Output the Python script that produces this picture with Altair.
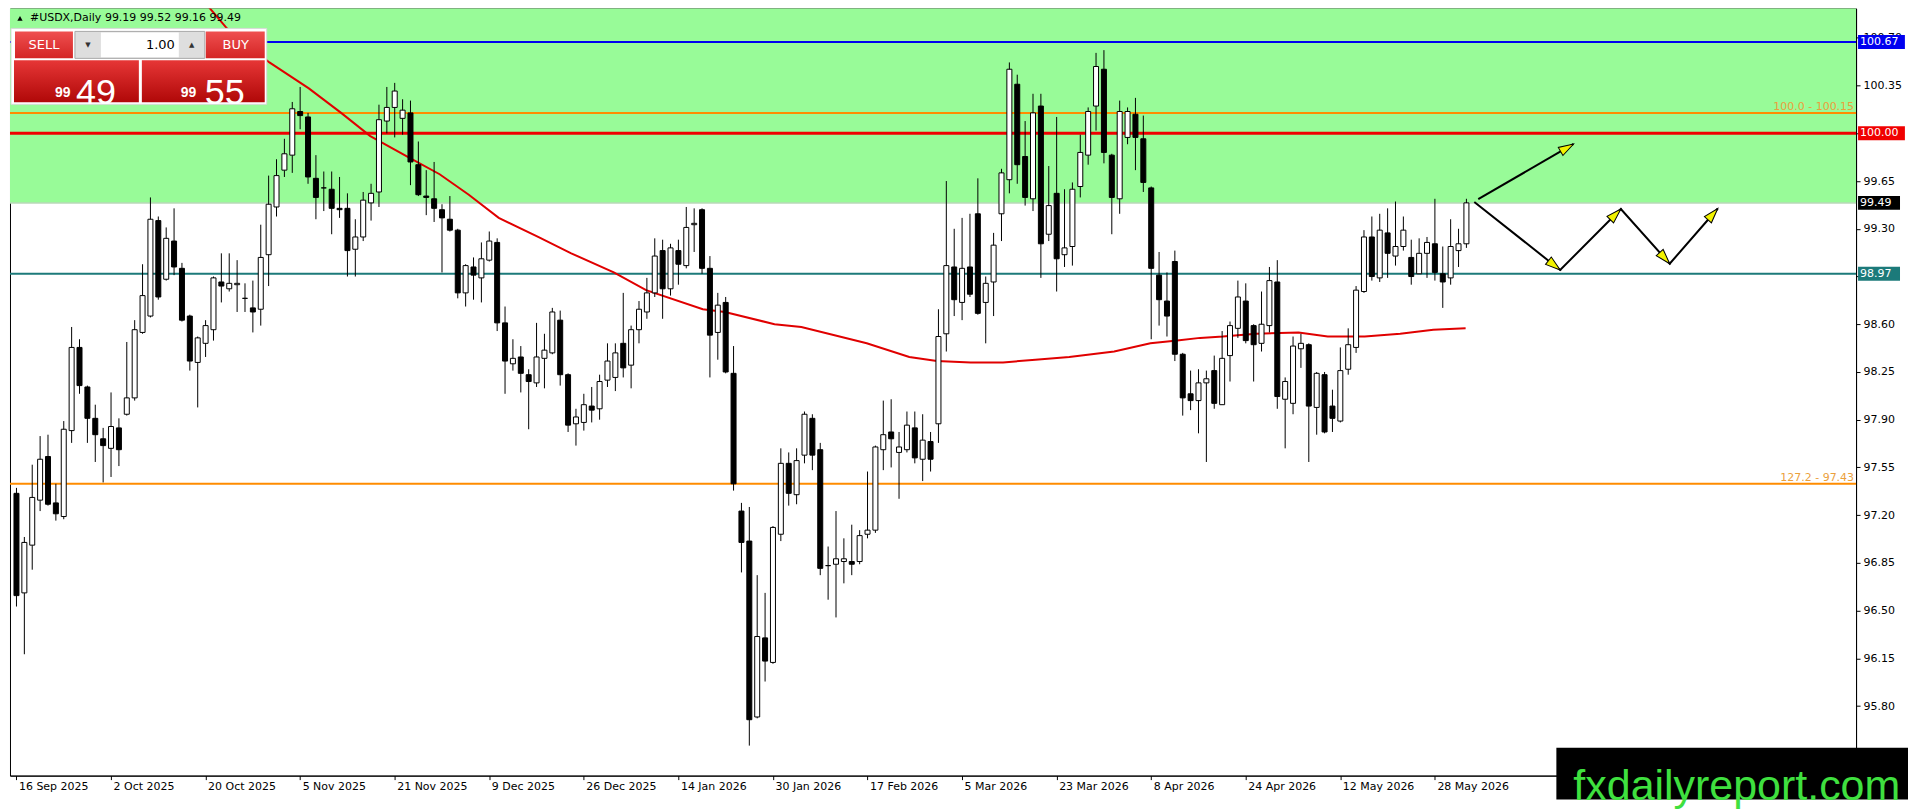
import json
import math

import altair as alt
import pandas as pd

# ---- data -----------------------------------------------------------------
date_labels = [
    "16 Sep 2025", "2 Oct 2025", "20 Oct 2025", "5 Nov 2025", "21 Nov 2025",
    "9 Dec 2025", "26 Dec 2025", "14 Jan 2026", "30 Jan 2026", "17 Feb 2026",
    "5 Mar 2026", "23 Mar 2026", "8 Apr 2026", "24 Apr 2026", "12 May 2026",
    "28 May 2026",
]
bars_per_label = 12

opens = [
    97.36, 96.63, 96.98, 97.31, 97.63, 97.29, 97.19, 97.82, 98.43, 98.14,
    97.91, 97.76, 97.69, 97.84, 97.94, 98.06, 98.54, 98.66, 99.36, 98.93,
    99.21, 99.01, 98.66, 98.32, 98.46, 98.56, 98.91, 98.86, 98.89, 98.79,
    98.72, 98.71, 99.11, 99.46, 99.73, 99.84, 100.16, 100.12, 99.67, 99.60,
    99.59, 99.45, 99.45, 99.15, 99.24, 99.49, 99.57, 100.09, 100.19, 100.11,
    100.15, 99.77, 99.54, 99.52, 99.44, 99.37, 99.29, 98.83, 99.02, 98.94,
    99.07, 99.20, 98.61, 98.31, 98.36, 98.23, 98.17, 98.35, 98.39, 98.63,
    98.23, 97.87, 97.88, 98.00, 97.98, 98.19, 98.21, 98.46, 98.30, 98.56,
    98.69, 98.83, 99.14, 98.86, 99.14, 99.03, 99.33, 99.44, 99.01, 98.54,
    98.76, 98.24, 97.23, 97.01, 95.72, 96.30, 96.12, 97.06, 97.58, 97.35,
    97.64, 97.91, 97.68, 96.83, 96.84, 96.86, 96.86, 96.86, 97.06, 97.09,
    97.68, 97.81, 97.66, 97.68, 97.84, 97.61, 97.74, 97.87, 98.53, 99.02,
    98.76, 99.02, 99.41, 98.76, 98.91, 99.41, 99.66, 100.36, 99.83, 99.52,
    100.20, 99.26, 99.56, 99.11, 99.17, 99.61, 99.84, 100.20, 100.47, 99.84,
    99.52, 99.97, 100.14, 99.96, 99.60, 98.96, 98.77, 99.06, 98.38, 98.09,
    98.04, 98.17, 98.26, 98.01, 98.37, 98.57, 98.77, 98.59, 98.46, 98.59,
    98.91, 98.05, 98.02, 98.42, 98.45, 97.99, 98.23, 98.00, 97.89, 98.27,
    98.43, 98.84, 99.24, 98.94, 99.27, 99.10, 99.17, 99.09, 98.97, 99.12,
    99.19, 98.97, 98.94, 99.14, 99.19,
]
highs = [
    97.40, 97.04, 97.57, 97.78, 97.79, 97.43, 97.89, 98.58, 98.49, 98.15,
    98.01, 97.84, 98.10, 97.91, 98.47, 98.63, 99.04, 99.53, 99.39, 99.31,
    99.45, 99.05, 98.67, 98.51, 98.63, 98.95, 99.12, 99.12, 99.07, 98.90,
    98.92, 99.33, 99.69, 99.81, 99.96, 100.23, 100.34, 100.15, 99.84, 99.72,
    99.72, 99.68, 99.56, 99.37, 99.57, 99.63, 100.21, 100.34, 100.37, 100.25,
    100.24, 99.94, 99.73, 99.79, 99.48, 99.54, 99.30, 99.04, 99.09, 99.20,
    99.28, 99.23, 98.73, 98.49, 98.44, 98.27, 98.61, 98.53, 98.72, 98.70,
    98.24, 97.98, 98.09, 98.14, 98.23, 98.46, 98.46, 98.83, 98.59, 98.77,
    98.94, 99.23, 99.22, 99.19, 99.22, 99.46, 99.45, 99.45, 99.10, 98.83,
    98.80, 98.44, 97.29, 97.26, 96.76, 96.63, 97.12, 97.69, 97.66, 97.69,
    97.96, 97.94, 97.73, 96.97, 97.23, 97.03, 97.13, 97.09, 97.52, 97.71,
    98.04, 98.05, 97.81, 97.96, 97.96, 97.94, 97.81, 98.71, 99.65, 99.30,
    99.38, 99.41, 99.67, 98.95, 99.27, 99.74, 100.52, 100.43, 100.09, 100.29,
    100.29, 99.76, 100.12, 99.59, 99.64, 99.99, 100.19, 100.59, 100.61, 99.85,
    100.24, 100.19, 100.26, 100.13, 99.61, 99.13, 98.98, 99.14, 98.39, 98.26,
    98.27, 98.26, 98.37, 98.55, 98.62, 98.92, 98.90, 98.60, 98.84, 99.02,
    99.07, 98.21, 98.51, 98.53, 98.46, 98.25, 98.25, 98.12, 98.43, 98.57,
    98.88, 99.29, 99.39, 99.41, 99.45, 99.50, 99.39, 99.22, 99.23, 99.24,
    99.52, 99.17, 99.37, 99.30, 99.52,
]
lows = [
    96.53, 96.18, 96.80, 97.23, 97.27, 97.16, 97.17, 97.73, 98.09, 97.73,
    97.59, 97.44, 97.48, 97.56, 97.93, 98.04, 98.53, 98.65, 98.78, 98.92,
    98.96, 98.62, 98.26, 97.99, 98.36, 98.48, 98.76, 98.84, 98.69, 98.69,
    98.54, 98.59, 98.88, 99.39, 99.68, 99.71, 100.03, 99.63, 99.37, 99.43,
    99.26, 99.38, 98.95, 98.95, 99.21, 99.36, 99.46, 100.00, 99.97, 99.99,
    99.62, 99.54, 99.40, 99.35, 98.98, 99.28, 98.79, 98.73, 98.78, 98.76,
    99.06, 98.55, 98.09, 98.26, 98.10, 97.83, 98.14, 98.13, 98.38, 98.15,
    97.81, 97.71, 97.82, 97.88, 97.90, 98.14, 98.11, 98.21, 98.13, 98.46,
    98.64, 98.80, 98.64, 98.81, 98.89, 99.01, 99.13, 98.97, 98.21, 98.34,
    98.24, 97.38, 96.78, 95.51, 95.71, 95.98, 96.11, 97.01, 97.27, 97.28,
    97.58, 97.53, 96.76, 96.58, 96.45, 96.70, 96.76, 96.84, 97.03, 97.07,
    97.53, 97.55, 97.32, 97.66, 97.58, 97.45, 97.52, 97.73, 98.40, 98.66,
    98.63, 98.80, 98.67, 98.46, 98.66, 99.21, 99.56, 99.63, 99.47, 99.43,
    98.94, 99.21, 98.84, 99.02, 99.03, 99.53, 99.77, 100.02, 99.78, 99.26,
    99.41, 99.92, 99.73, 99.57, 98.49, 98.59, 98.51, 98.33, 97.93, 97.97,
    97.80, 97.59, 97.98, 98.01, 98.18, 98.50, 98.46, 98.18, 98.40, 98.54,
    97.98, 97.69, 97.94, 98.28, 97.59, 97.79, 97.80, 97.81, 97.88, 98.23,
    98.39, 98.83, 98.92, 98.91, 98.94, 99.03, 99.14, 98.89, 98.97, 98.94,
    98.92, 98.72, 98.89, 99.02, 99.16,
]
closes = [
    96.61, 97.00, 97.33, 97.61, 97.28, 97.21, 97.83, 98.43, 98.15, 97.91,
    97.79, 97.71, 97.85, 97.68, 98.06, 98.56, 98.81, 99.37, 98.80, 99.23,
    99.02, 98.63, 98.33, 98.50, 98.59, 98.94, 98.88, 98.90, 98.90, 98.79,
    98.69, 99.09, 99.48, 99.69, 99.85, 100.18, 100.13, 99.68, 99.53, 99.60,
    99.45, 99.44, 99.14, 99.24, 99.51, 99.56, 100.10, 100.19, 100.31, 100.17,
    99.79, 99.55, 99.53, 99.45, 99.38, 99.29, 98.83, 99.03, 98.96, 99.08,
    99.21, 98.61, 98.33, 98.35, 98.24, 98.18, 98.36, 98.41, 98.69, 98.23,
    97.86, 97.92, 98.01, 97.97, 98.18, 98.33, 98.39, 98.28, 98.56, 98.71,
    98.83, 99.10, 98.86, 99.16, 99.04, 99.31, 99.34, 99.01, 98.52, 98.74,
    98.25, 97.43, 97.00, 95.70, 96.31, 96.13, 97.11, 97.58, 97.36, 97.60,
    97.94, 97.64, 96.81, 96.83, 96.88, 96.88, 96.84, 97.05, 97.09, 97.70,
    97.79, 97.76, 97.70, 97.86, 97.62, 97.75, 97.61, 98.51, 99.03, 98.78,
    99.01, 98.82, 98.68, 98.90, 99.18, 99.71, 100.47, 99.77, 99.53, 100.15,
    99.19, 99.47, 99.08, 99.16, 99.59, 99.86, 100.16, 100.49, 99.86, 99.53,
    100.16, 100.16, 99.97, 99.64, 99.01, 98.78, 98.66, 98.38, 98.06, 98.04,
    98.17, 98.20, 98.02, 98.35, 98.59, 98.80, 98.48, 98.45, 98.60, 98.92,
    98.07, 98.18, 98.44, 98.46, 98.00, 98.24, 97.81, 97.91, 98.26, 98.45,
    98.85, 99.24, 98.95, 99.29, 99.12, 99.17, 99.29, 98.95, 99.12, 99.20,
    98.98, 98.91, 99.17, 99.19, 99.49,
]

# moving average, read at points along the red curve (bar index, price)
ma_bar = [24.2, 26.7, 32.1, 37.1, 41.2, 44.9, 49.6, 53.7, 57.4, 61.2, 66.2,
          70.4, 75.8, 79.9, 87.1, 89.9, 96.2, 99.6, 107.9, 113.3, 116.8,
          121.1, 125.2, 129.3, 133.6, 139.3, 143.9, 147.3, 150.2, 153.1,
          157.3, 162.7, 166.4, 171.1, 175.6, 179.8, 183.9]
ma_value = [100.94, 100.77, 100.52, 100.33, 100.15, 99.98, 99.83, 99.70,
            99.55, 99.38, 99.24, 99.12, 98.98, 98.85, 98.71, 98.69, 98.60,
            98.58, 98.46, 98.36, 98.33, 98.32, 98.32, 98.34, 98.36, 98.40,
            98.46, 98.48, 98.50, 98.51, 98.53, 98.54, 98.51, 98.51, 98.53,
            98.56, 98.57]

zone_low, zone_high = 99.49, 101.2
level_resist = 100.67
level_round = 100.00
level_support = 98.97
fibo_levels = [100.15, 97.43]
fibo_texts = ["100.0 - 100.15", "127.2 - 97.43"]
price_tags = [100.67, 100.00, 99.49, 98.97]

bid, ask = 99.49, 99.55

up_arrow_bar = [185.5, 197.6]
up_arrow_price = [99.517, 99.922]
zigzag_bar = [185.0, 195.9, 203.6, 209.8, 215.9]
zigzag_price = [99.497, 98.998, 99.445, 99.044, 99.449]

tick_values = [95.80, 96.15, 96.50, 96.85, 97.20, 97.55, 97.90,
               98.25, 98.60, 98.95, 99.30, 99.65, 100.00, 100.35, 100.70]

# ---- layout ---------------------------------------------------------------
PW, PH = 1848, 768
X_MIN, X_MAX = -0.1875, 232.8125
Y_MIN, Y_MAX = 95.29, 100.916
FONT = "DejaVu Sans"

xs = alt.Scale(domain=[X_MIN, X_MAX], nice=False, zero=False)
ys = alt.Scale(domain=[Y_MIN, Y_MAX], nice=False, zero=False)

x_axis = alt.Axis(
    values=list(range(0, bars_per_label * len(date_labels), bars_per_label)),
    labelExpr=f"{json.dumps(date_labels)}[round(datum.value / {bars_per_label})]",
    labelAlign="left", labelOffset=2, labelPadding=1, labelFont=FONT,
    labelFontSize=11, labelColor="black", tickSize=4, tickColor="black",
    domainColor="black", grid=False, title=None, labelOverlap=False,
    labelFlush=False,
)
y_axis = alt.Axis(
    orient="right", values=tick_values, format=".2f", labelFont=FONT,
    labelFontSize=11, labelColor="black", tickSize=4, tickColor="black",
    domainColor="black", labelPadding=3, grid=False, title=None,
    labelOverlap=False,
)


def X(field):
    return alt.X(field, scale=xs, axis=x_axis)


def Y(field):
    return alt.Y(field, scale=ys, axis=y_axis)


candles = pd.DataFrame({
    "bar": range(len(opens)), "open": opens, "high": highs,
    "low": lows, "close": closes,
})
candles["dir"] = ["up" if c >= o else "down" for o, c in zip(opens, closes)]

one = pd.DataFrame({"k": [0]})


def box(x1, y1, x2, y2, **style):
    return alt.Chart(one).mark_rect(**style).encode(
        x=alt.value(x1), x2=alt.value(x2), y=alt.value(y1), y2=alt.value(y2)
    )


def label(x, y, text, **style):
    return alt.Chart(one).mark_text(**style).encode(
        x=alt.value(x), y=alt.value(y), text=alt.value(text)
    )


def grad(top, bottom):
    return alt.Gradient(
        gradient="linear", x1=0, x2=0, y1=0, y2=1,
        stops=[alt.GradientStop(color=top, offset=0),
               alt.GradientStop(color=bottom, offset=1)],
    )


def hline(value, color, width):
    return alt.Chart(pd.DataFrame({"p": [value]})).mark_rule(
        color=color, strokeWidth=width
    ).encode(y=Y("p:Q"))


# ---- chart layers ---------------------------------------------------------
zone = alt.Chart(pd.DataFrame({"lo": [zone_low], "hi": [zone_high]})).mark_rect(
    color="#98fb98", clip=True
).encode(
    x=alt.value(0), x2=alt.value(PW),
    y=Y("lo:Q"), y2="hi:Q",
)
zone_edge = hline(zone_low, "#b9d9b9", 1.5)

lines = [
    hline(level_resist, "#0000f0", 2),
    hline(fibo_levels[0], "#ff8c00", 2),
    hline(level_round, "#f00000", 3),
    hline(level_support, "#1c7a7a", 2),
    hline(fibo_levels[1], "#ff8c00", 2),
]

ma = alt.Chart(pd.DataFrame({"bar": ma_bar, "ma": ma_value})).mark_line(
    color="#e00000", strokeWidth=2, clip=True
).encode(x=X("bar:Q"), y=Y("ma:Q"))

wicks = alt.Chart(candles).mark_rule(color="black", strokeWidth=1, clip=True).encode(
    x=X("bar:Q"), y=Y("low:Q"), y2="high:Q",
)
bodies = alt.Chart(candles).mark_bar(
    size=5, stroke="black", strokeWidth=1, clip=True
).encode(
    x=X("bar:Q"), y=Y("open:Q"), y2="close:Q",
    fill=alt.Fill("dir:N", scale=alt.Scale(domain=["up", "down"],
                                          range=["white", "black"]), legend=None),
)

fibo = alt.Chart(pd.DataFrame({"p": fibo_levels, "t": fibo_texts})).mark_text(
    align="right", baseline="bottom", dy=-1, font=FONT, fontSize=11,
    color="#eb9f3c",
).encode(x=alt.value(PW - 2), y=Y("p:Q"), text="t:N")

# forecast arrows
px_bar = PW / (X_MAX - X_MIN)
px_price = PH / (Y_MAX - Y_MIN)
paths = []
heads = []
for gid, (bx, py) in enumerate([(up_arrow_bar, up_arrow_price),
                                (zigzag_bar, zigzag_price)]):
    for k, (b, p) in enumerate(zip(bx, py)):
        paths.append({"g": gid, "o": k, "bar": b, "p": p})
        if k > 0:
            dx = (b - bx[k - 1]) * px_bar
            dy = -(p - py[k - 1]) * px_price
            heads.append({"bar": b, "p": p,
                          "angle": math.degrees(math.atan2(dx, -dy)) % 360})

arrow_lines = alt.Chart(pd.DataFrame(paths)).mark_line(
    color="black", strokeWidth=2
).encode(x=X("bar:Q"), y=Y("p:Q"), detail="g:N", order="o:Q")
arrow_heads = alt.Chart(pd.DataFrame(heads)).mark_point(
    shape="M0,0L0.62,2L-0.62,2Z", size=225, filled=True, fill="#f2f200",
    stroke="black", strokeWidth=1, opacity=1,
).encode(
    x=X("bar:Q"), y=Y("p:Q"),
    angle=alt.Angle("angle:Q", scale=None),
)

# price tags on the right axis
tag_df = pd.DataFrame({
    "p": price_tags,
    "t": [f"{v:.2f}" for v in price_tags],
    "c": ["#0000f0", "#f00000", "#000000", "#1c7a7a"],
    "w": ["wide", "wide", "narrow", "narrow"],
})
tag_boxes = []
for kind, path in [("wide", "M0,-1L6.7,-1L6.7,1L0,1Z"), ("narrow", "M0,-1L6.0,-1L6.0,1L0,1Z")]:
    tag_boxes.append(
        alt.Chart(tag_df[tag_df["w"] == kind]).mark_point(
            shape=path, size=196, filled=True, opacity=1, strokeWidth=0
        ).encode(
            x=alt.value(PW + 2),
            y=Y("p:Q"),
            fill=alt.Fill("c:N", scale=None),
        )
    )
tag_text = alt.Chart(tag_df).mark_text(
    align="left", baseline="middle", font=FONT, fontSize=11, color="white"
).encode(x=alt.value(PW + 4), y=Y("p:Q"), text="t:N")

# header and trade panel
header = [
    alt.Chart(one).mark_point(shape="triangle-up", size=28, filled=True,
                              color="black", opacity=1).encode(
        x=alt.value(10), y=alt.value(10)),
    label(20, 10, "#USDX,Daily", align="left", baseline="middle", font=FONT,
          fontSize=11, color="black"),
    label(95, 10, f"{opens[-1]:.2f} {highs[-1]:.2f} {lows[-1]:.2f} {closes[-1]:.2f}",
          align="left", baseline="middle", font=FONT, fontSize=11, color="black"),
]
bid_s, ask_s = f"{bid:.2f}", f"{ask:.2f}"
panel = [
    box(1, 20, 257, 96, fill="white", stroke="#d8d8d8", strokeWidth=1),
    box(5, 23, 63, 50, fill=grad("#ef5050", "#d42424")),
    box(65, 23, 195, 50, fill="#dedede", stroke="#a8a8a8", strokeWidth=1),
    box(91, 24, 169, 49, fill="white"),
    box(196, 23, 255, 50, fill=grad("#ef5050", "#d42424")),
    box(4, 52, 129, 94, fill=grad("#e63636", "#b00808")),
    box(132, 52, 255, 94, fill=grad("#e63636", "#b00808")),
    label(34, 37, "SELL", align="center", baseline="middle", font=FONT,
          fontSize=13, color="white"),
    label(226, 37, "BUY", align="center", baseline="middle", font=FONT,
          fontSize=13, color="white"),
    label(165, 37, "1.00", align="right", baseline="middle", font=FONT,
          fontSize=13, color="black"),
    label(78, 37, "▼", align="center", baseline="middle", font=FONT,
          fontSize=7, color="#333333"),
    label(182, 37, "▲", align="center", baseline="middle", font=FONT,
          fontSize=7, color="#333333"),
    label(45, 85, bid_s[:2], align="left", font="Liberation Sans",
          fontSize=14, fontWeight="bold", color="white"),
    label(66, 85, bid_s[3:], align="left", font="Liberation Sans",
          fontSize=36, color="white"),
    label(171, 85, ask_s[:2], align="left", font="Liberation Sans",
          fontSize=14, fontWeight="bold", color="white"),
    label(195, 85, ask_s[3:], align="left", font="Liberation Sans",
          fontSize=36, color="white"),
]

watermark = [
    box(1548, 740, 1900, 792, fill="black"),
    label(1565, 779, "fxdailyreport.com", align="left", font="Liberation Sans",
          fontSize=43, color="#3fe03f"),
]

chart = alt.layer(
    zone, zone_edge, *lines, ma, wicks, bodies, fibo, arrow_lines, arrow_heads,
    *tag_boxes, tag_text, *header, *panel, *watermark,
).properties(
    width=PW, height=PH, padding=0, background="white"
).configure_view(stroke="black", strokeWidth=1)

chart.save("out.html", embed_options={"renderer": "svg", "actions": False})
